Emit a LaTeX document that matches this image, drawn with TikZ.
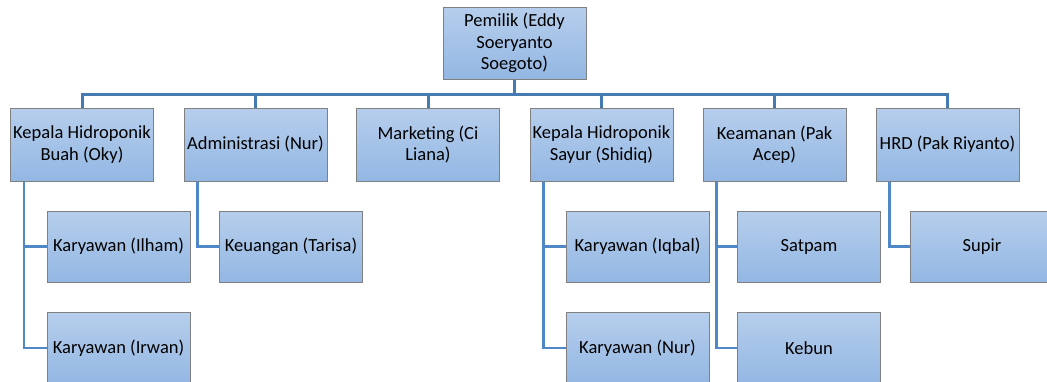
\documentclass[tikz,border=0pt]{standalone}
\usepackage{fontspec}
\setmainfont{Carlito}
\usetikzlibrary{positioning}

\definecolor{boxtop}{RGB}{182,206,236}
\definecolor{boxbot}{RGB}{147,183,227}
\definecolor{boxline}{RGB}{128,128,128}
\definecolor{busblue}{RGB}{70,122,178}
\definecolor{linkblue}{RGB}{79,135,199}

\tikzset{
  unit/.style={rectangle, draw=boxline, line width=1pt, top color=boxtop, bottom color=boxbot,
    minimum width=143pt, minimum height=73pt, align=center, inner sep=1pt,
    font=\fontsize{18.5}{21.5}\selectfont},
  staff/.style={unit, minimum height=71pt},
  link/.style={linkblue, line width=2.6pt},
  buslink/.style={busblue, line width=3pt}
}

\begin{document}
\begin{tikzpicture}[x=1pt,y=-1pt]
\useasboundingbox (0,0) rectangle (1047,381);
\clip (0,0) rectangle (1047,381);
% top
\node[unit, minimum height=72pt] (owner) at (514.5,43) {Pemilik (Eddy\\Soeryanto\\Soegoto)};
% first level
\node[unit] (buah)  at (82,144.5)    {Kepala Hidroponik\\Buah (Oky)};
\node[unit] (admin) at (255.5,144.5) {Administrasi (Nur)};
\node[unit] (mkt)   at (428,144.5)   {Marketing (Ci\\Liana)};
\node[unit] (sayur) at (601.5,144.5) {Kepala Hidroponik\\Sayur (Shidiq)};
\node[unit] (aman)  at (774.5,144.5) {Keamanan (Pak\\Acep)};
\node[unit] (hrd)   at (947.5,144.5) {HRD (Pak Riyanto)};
% second and third level
\node[staff] (ilham)  at (118.5,246.5) {Karyawan (Ilham)};
\node[staff] (irwan)  at (118.5,348)   {Karyawan (Irwan)};
\node[staff] (uang)   at (291,246.5)   {Keuangan (Tarisa)};
\node[staff] (iqbal)  at (637.5,246.5) {Karyawan (Iqbal)};
\node[staff] (nur)    at (637.5,348)   {Karyawan (Nur)};
\node[staff] (satpam) at (809,246.5)   {Satpam};
\node[staff] (kebun)  at (809,348)     {Kebun};
\node[staff] (supir)  at (982,246.5)   {Supir};
% connectors
\coordinate (bus) at ([yshift=-15pt]owner.south);
\draw[buslink, line width=3.6pt] (owner.south) -- (bus);
\foreach \n in {buah,admin,mkt,sayur,aman,hrd}
    \draw[buslink] (bus) -| (\n.north);
\foreach \p/\c in {buah/ilham, buah/irwan, admin/uang, sayur/iqbal, sayur/nur,
                   aman/satpam, aman/kebun, hrd/supir}
    \draw[link] ([xshift=14pt]\p.south west) |- (\c.west);
\end{tikzpicture}
\end{document}
